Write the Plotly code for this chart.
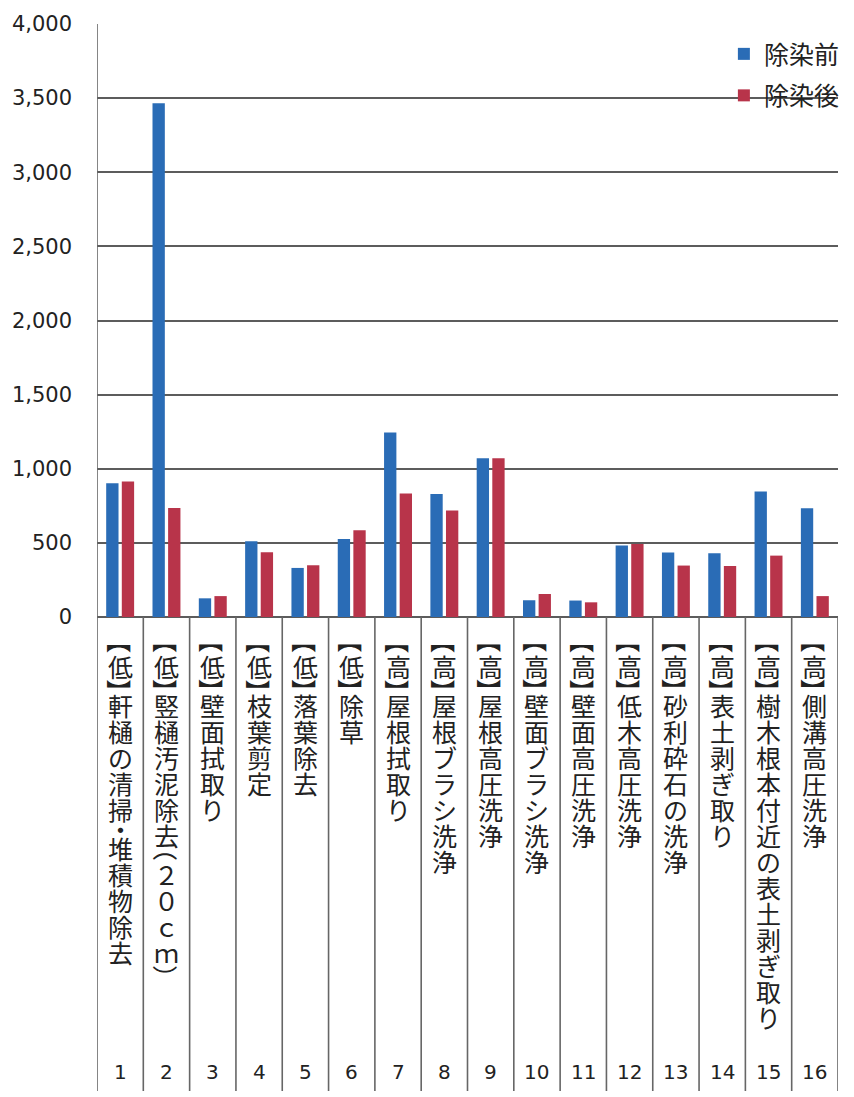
import plotly.graph_objects as go

categories = [
    "【低】軒樋の清掃・堆積物除去",
    "【低】竪樋汚泥除去（２０ｃｍ）",
    "【低】壁面拭取り",
    "【低】枝葉剪定",
    "【低】落葉除去",
    "【低】除草",
    "【高】屋根拭取り",
    "【高】屋根ブラシ洗浄",
    "【高】屋根高圧洗浄",
    "【高】壁面ブラシ洗浄",
    "【高】壁面高圧洗浄",
    "【高】低木高圧洗浄",
    "【高】砂利砕石の洗浄",
    "【高】表土剥ぎ取り",
    "【高】樹木根本付近の表土剥ぎ取り",
    "【高】側溝高圧洗浄",
]
numbers = [str(i) for i in range(1, 17)]
before = [903, 3465, 126, 511, 331, 526, 1244, 830, 1071, 113, 111, 482, 435, 430, 846, 733]
after = [914, 735, 141, 437, 349, 585, 833, 718, 1071, 155, 99, 493, 347, 344, 414, 141]
series_names = ["除染前", "除染後"]
y_ticks = [0, 500, 1000, 1500, 2000, 2500, 3000, 3500, 4000]

BLUE = "#2a6cb6"
RED = "#b8344a"
GRID = "#5c5c5c"
TXT = "#222222"

OFF = 8  # page body margin
W, H = 854 - OFF, 1097 - OFF
ML, MR, MT, MB = 97 - OFF, 16, 24 - OFF, 480
PH = H - MT - MB  # plot height in px
BOTTOM = 617  # screen y of plot bottom

fig = go.Figure()
fig.add_trace(go.Bar(x=numbers, y=before, name=series_names[0], marker_color=BLUE,
                     marker_line_width=0, legendgroup="a"))
fig.add_trace(go.Bar(x=numbers, y=after, name=series_names[1], marker_color=RED,
                     marker_line_width=0, legendgroup="b"))

opening = set("【（")
closing = set("】）")
ADV = 26.0
HALF = ADV / 2
START = 23.0  # px below plot bottom
FS = 25
cjk = dict(family="Noto Sans CJK JP", size=FS, color=TXT)
annotations = []
for i, lab in enumerate(categories):
    pos = START
    for ch in lab:
        if ch in opening or ch in closing:
            adv = HALF
            c = pos + adv / 2
            annotations.append(dict(
                x=i, xref="x", y=0, yref="paper", yanchor="middle", xanchor="center",
                yshift=-c, text=ch, textangle=90, showarrow=False,
                width=HALF, align="right" if ch in opening else "left",
                borderpad=0, font=cjk))
        else:
            adv = HALF if ch == "・" else ADV
            c = pos + adv / 2
            annotations.append(dict(
                x=i, xref="x", y=0, yref="paper", yanchor="middle", xanchor="center",
                yshift=-c, text=ch, showarrow=False, borderpad=0, font=cjk))
        pos += adv
    annotations.append(dict(
        x=i, xref="x", y=0, yref="paper", yanchor="middle", xanchor="center",
        yshift=-(1072 - BOTTOM), text=numbers[i], showarrow=False,
        font=dict(family="DejaVu Sans", size=20, color=TXT)))

table_bottom = -(1091 - BOTTOM) / PH
shapes = []
for k in range(len(categories) + 1):
    shapes.append(dict(type="line", xref="x", yref="paper",
                       x0=k - 0.5, x1=k - 0.5,
                       y0=1 if k == 0 else 0, y1=table_bottom,
                       line=dict(color="#666666", width=1.6), layer="above"))

fig.update_layout(
    width=W, height=H,
    margin=dict(l=ML, r=MR, t=MT, b=MB, autoexpand=False),
    paper_bgcolor="white", plot_bgcolor="white",
    barmode="group", bargap=0.326, bargroupgap=0.21,
    showlegend=True,
    legend=dict(x=0.846, y=0.988, xanchor="left", yanchor="top",
                font=dict(family="Noto Sans CJK JP", size=25, color=TXT),
                bgcolor="rgba(0,0,0,0)", tracegroupgap=6,
                traceorder="grouped"),
    annotations=annotations,
    shapes=shapes,
    xaxis=dict(type="category", showticklabels=False, showgrid=False,
               showline=False, ticks="", range=[-0.5, 15.5], fixedrange=True,
               automargin=False),
    yaxis=dict(range=[0, 4000], tickvals=y_ticks, tickformat=",",
               showgrid=True, gridcolor=GRID, gridwidth=2,
               zeroline=True, zerolinecolor=GRID, zerolinewidth=2,
               showline=False, ticks="", ticklabelstandoff=24, automargin=False,
               tickfont=dict(family="DejaVu Sans", size=21, color=TXT)),
)

fig.write_html("out.html")
